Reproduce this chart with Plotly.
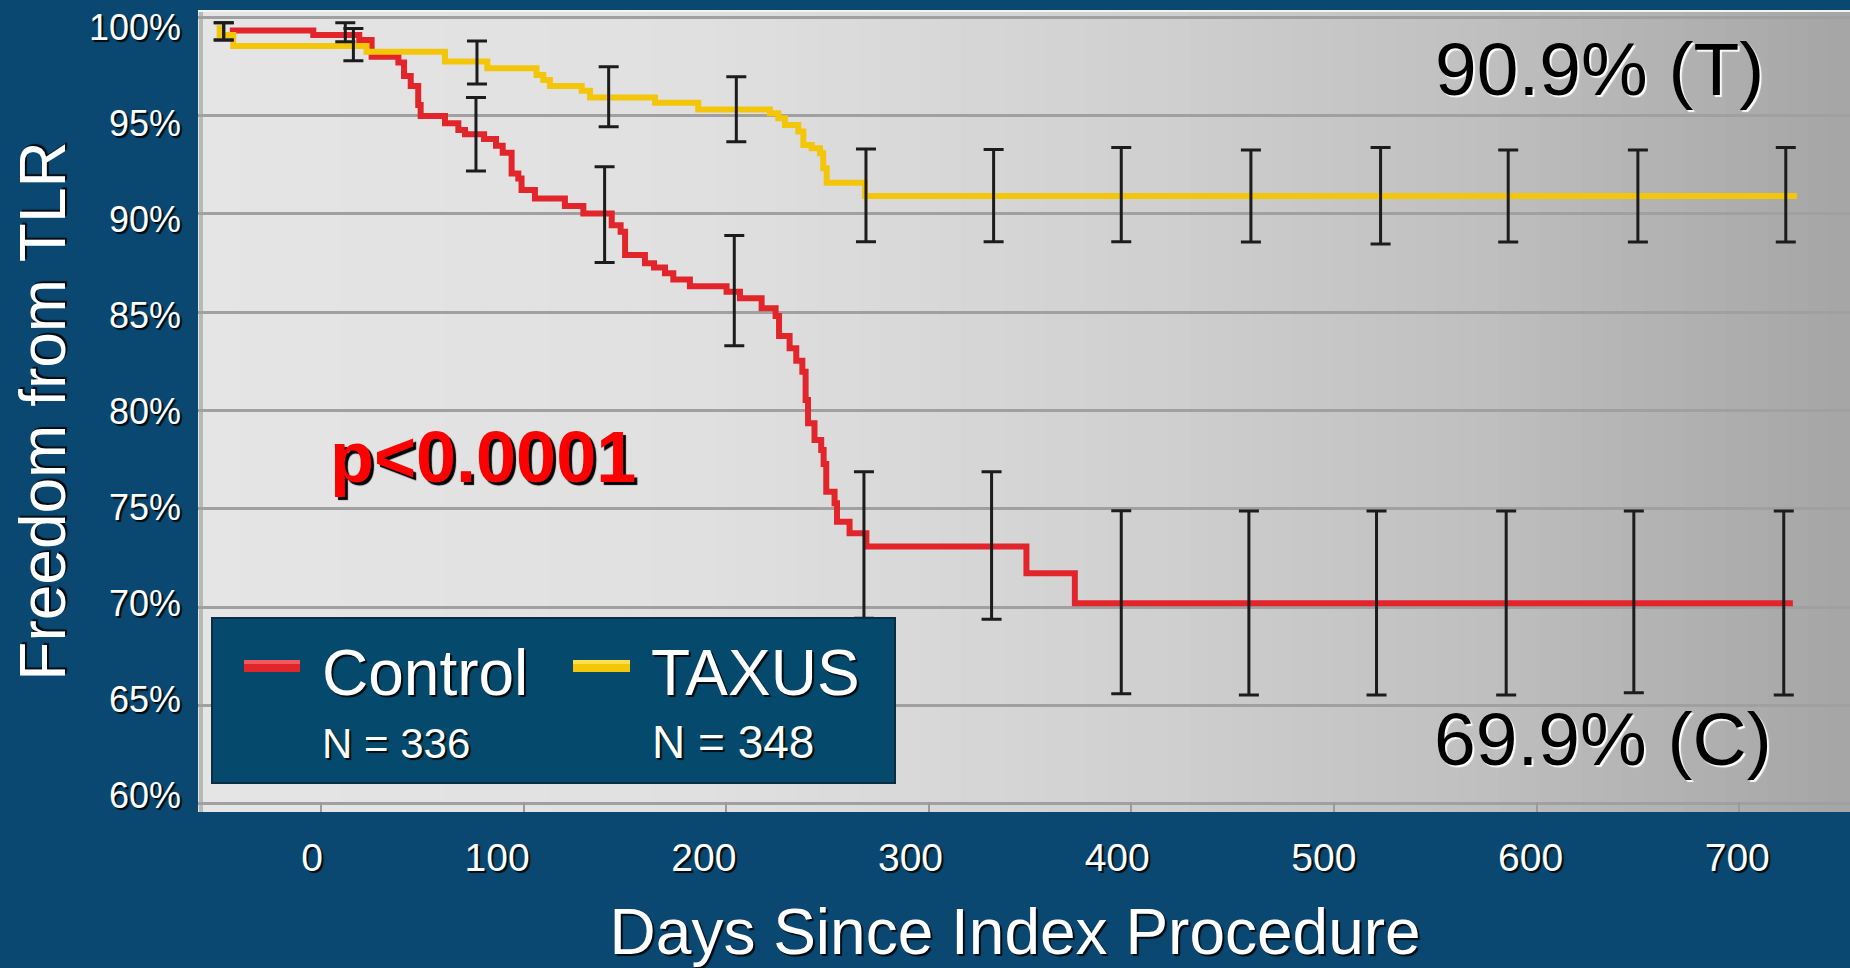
import plotly.graph_objects as go

# Kaplan-Meier steps: day of each drop and the new level (% free from TLR)
control_days = [-45, -3.8, 18.9, 25.0, 38.2, 41.0, 44.3, 48.0, 49.2, 61.2, 67.8, 71.1, 80.5,
                86.4, 89.7, 94.1, 97.4, 99.0, 105.6, 120.4, 129.5, 143.5, 147.9, 150.1, 159.9,
                164.4, 169.8, 173.9, 182.1, 200.2, 206.8, 217.5, 224.4, 226.1, 231.3, 234.6,
                237.6, 239.2, 240.4, 243.6, 246.9, 248.1, 249.4, 253.5, 254.7, 260.9, 269.2,
                348.2, 372.1, 726.5]
control_pct = [99.33, 99.10, 98.85, 98.00, 97.70, 97.02, 96.51, 95.54, 94.98, 94.61, 94.27, 94.05,
               93.81, 93.47, 93.11, 92.06, 91.81, 91.22, 90.79, 90.40, 90.03, 89.43, 89.10, 87.91,
               87.49, 87.28, 86.98, 86.67, 86.33, 86.05, 85.71, 85.20, 84.81, 83.79, 83.17, 82.54,
               81.98, 80.54, 79.35, 78.50, 78.00, 77.28, 75.87, 75.28, 74.35, 73.76, 73.08,
               71.72, 70.20, 70.20]

taxus_days = [-50, -50, -43.3, 22.5, 61.2, 82.1, 106.4, 109.7, 113.0, 128.7, 132.8, 164.9, 186.2,
              221.6, 225.7, 229.0, 235.6, 238.1, 242.2, 246.3, 247.9, 249.6, 268.5, 728.5]
taxus_pct = [99.60, 99.10, 98.54, 98.25, 97.75, 97.41, 97.07, 96.82, 96.51, 96.27, 95.93, 95.66,
             95.32, 95.12, 94.87, 94.53, 94.19, 93.51, 93.34, 93.09, 92.32, 91.59, 90.92, 90.92]

# confidence bars (day, upper, lower)
control_bar_days = [-48, 12, 76.5, 140, 204, 268, 331, 395, 458, 521, 585, 648, 722]
control_bar_hi = [99.73, 99.73, 95.92, 92.40, 88.90, 76.89, 76.89, 74.91, 74.89, 74.89, 74.89, 74.89, 74.89]
control_bar_lo = [98.85, 98.76, 92.19, 87.53, 83.30, 69.44, 69.39, 65.59, 65.53, 65.53, 65.53, 65.65, 65.53]

taxus_bar_days = [-48, 16, 77, 142, 205, 269, 332, 395, 459, 523, 586, 650, 723]
taxus_bar_hi = [99.73, 99.44, 98.80, 97.49, 96.98, 93.31, 93.28, 93.38, 93.25, 93.38, 93.25, 93.25, 93.38]
taxus_bar_lo = [98.85, 97.80, 96.61, 94.44, 93.68, 88.59, 88.59, 88.59, 88.58, 88.47, 88.58, 88.58, 88.58]

y_ticks = [60, 65, 70, 75, 80, 85, 90, 95, 100]
y_tick_text = ['60%', '65%', '70%', '75%', '80%', '85%', '90%', '95%', '100%']
x_ticks = [0, 100, 200, 300, 400, 500, 600, 700]

group_names = ['Control', 'TAXUS']
group_n = ['N = 336', 'N = 348']

FONT = 'Liberation Sans, Arial, sans-serif'
BG = '#0a4871'
RED = '#e2252a'
GOLD = '#f3c60a'

W, H = 1850, 968
L, R, T, B = 198, 0, 10, 156
PW, PH = W - L - R, H - T - B


def px(p):
    return (p - L) / PW


def py(p):
    return (H - B - p) / PH


def bar_trace(days, hi, lo):
    mid = [(a + b) / 2 for a, b in zip(hi, lo)]
    half = [(a - b) / 2 for a, b in zip(hi, lo)]
    return go.Scatter(x=days, y=mid, mode='markers', marker=dict(size=1, opacity=0),
                      error_y=dict(type='data', array=half, color='#1c1c1c', thickness=3, width=10),
                      showlegend=False, hoverinfo='skip')


fig = go.Figure()
fig.add_trace(go.Scatter(x=control_days, y=control_pct, mode='lines', name=group_names[0],
                         line=dict(color=RED, width=6, shape='hv'), showlegend=False))
fig.add_trace(go.Scatter(x=taxus_days, y=taxus_pct, mode='lines', name=group_names[1],
                         line=dict(color=GOLD, width=6, shape='hv'), showlegend=False))
fig.add_trace(bar_trace(control_bar_days, control_bar_hi, control_bar_lo))
fig.add_trace(bar_trace(taxus_bar_days, taxus_bar_hi, taxus_bar_lo))
# empty trace so the label axes (x2/y2) get drawn
fig.add_trace(go.Scatter(x=[], y=[], xaxis='x2', yaxis='y2', showlegend=False, hoverinfo='skip'))

# grey plot background darkening to the right
shapes = []
stops = [(198, 229), (700, 224), (1150, 208), (1500, 190), (1850, 165)]
n = 80
for i in range(n):
    x0 = L + PW * i / n
    x1 = L + PW * (i + 1) / n
    xm = (x0 + x1) / 2
    for (a, ca), (b, cb) in zip(stops[:-1], stops[1:]):
        if a <= xm <= b:
            c = int(round(ca + (cb - ca) * (xm - a) / (b - a)))
            break
    shapes.append(dict(type='rect', xref='paper', yref='paper', x0=px(x0), x1=px(x1) + 0.001,
                       y0=0, y1=1, fillcolor=f'rgb({c},{c},{c})', line=dict(width=0), layer='below'))
# bevel on left and top edge
shapes.append(dict(type='line', xref='paper', yref='paper', x0=px(201), x1=px(201), y0=0, y1=1,
                   line=dict(color='#b8b8b8', width=4), layer='below'))
shapes.append(dict(type='line', xref='paper', yref='paper', x0=0, x1=1, y0=py(11), y1=py(11),
                   line=dict(color='#f4f4f4', width=2), layer='below'))
# legend box and swatches
shapes.append(dict(type='rect', xref='paper', yref='paper', x0=px(212), x1=px(895), y0=py(783), y1=py(618),
                   fillcolor='#054a6c', line=dict(color='#0b2c42', width=2), layer='above'))
for (sx0, sx1), col, hi in [((244, 300), RED, '#f05a5e'), ((573, 630), GOLD, '#ffe04a')]:
    shapes.append(dict(type='rect', xref='paper', yref='paper', x0=px(sx0), x1=px(sx1),
                       y0=py(672), y1=py(660), fillcolor=col, line=dict(width=0), layer='above'))
    shapes.append(dict(type='rect', xref='paper', yref='paper', x0=px(sx0), x1=px(sx1),
                       y0=py(664), y1=py(660), fillcolor=hi, line=dict(width=0), layer='above'))

shadow_w = '2px 2px 1px rgba(255,255,255,0.95)'
shadow_k = '2px 2px 1px rgba(0,0,0,0.85)'


def note(text, x, y, size, color, shadow, xanchor='left', bold=False):
    return dict(text=f'<b>{text}</b>' if bold else text, x=px(x), y=py(y), xref='paper', yref='paper',
                showarrow=False, xanchor=xanchor, yanchor='middle',
                font=dict(family=FONT, size=size, color=color, shadow=shadow))


annotations = [
    note('90.9% (T)', 1599, 69, 75, 'black', shadow_w, 'center'),
    note('69.9% (C)', 1603, 739, 75, 'black', shadow_w, 'center'),
    note('p<0.0001', 483, 457, 72, '#ff0000', '3px 3px 1px black', 'center', bold=True),
    note(group_names[0], 320, 673, 64, 'white', shadow_k),
    note(group_names[1], 649, 673, 64, 'white', shadow_k),
    note(group_n[0], 320, 743, 42, 'white', shadow_k),
    note(group_n[1], 650, 742, 46, 'white', shadow_k),
]

fig.update_layout(
    width=W, height=H,
    margin=dict(l=L, r=R, t=T, b=B, autoexpand=False),
    paper_bgcolor=BG, plot_bgcolor='#e4e4e4',
    shapes=shapes, annotations=annotations,
    showlegend=False,
    xaxis=dict(range=[-60.7, 754.7], tickvals=x_ticks, showticklabels=False, ticks='inside',
               ticklen=10, tickwidth=2, tickcolor='#9a9a9a', showgrid=False, zeroline=False,
               showline=False, automargin=False),
    yaxis=dict(range=[59.58, 100.376], tickvals=y_ticks, showticklabels=False, showgrid=True,
               gridcolor='#a0a0a0', gridwidth=3, zeroline=False, showline=False, automargin=False),
    # label axes: the slide's tick labels sit on a slightly different spacing than the grid
    xaxis2=dict(overlaying='x', anchor='y', side='bottom', range=[-60.47, 738.8], tickvals=x_ticks,
                ticktext=[str(v) for v in x_ticks], ticklabelposition='outside left', ticks='',
                ticklabelstandoff=19, showgrid=False, zeroline=False, showline=False, automargin=False,
                tickfont=dict(family=FONT, size=39, color='white', shadow=shadow_k),
                title=dict(text='Days Since Index Procedure&nbsp;', standoff=39,
                           font=dict(family=FONT, size=64, color='white', shadow=shadow_k))),
    yaxis2=dict(overlaying='y', anchor='x', side='left', range=[59.114, 100.912], tickvals=y_ticks,
                ticktext=y_tick_text, ticks='', ticklabelstandoff=16, showgrid=False, zeroline=False,
                showline=False, automargin=False,
                tickfont=dict(family=FONT, size=36, color='white', shadow=shadow_k),
                title=dict(text='Freedom from TLR', standoff=2,
                           font=dict(family=FONT, size=64, color='white', shadow=shadow_k))),
)

fig.write_html('out.html', post_script="document.body.style.margin='0';",
               config={'displayModeBar': False})
